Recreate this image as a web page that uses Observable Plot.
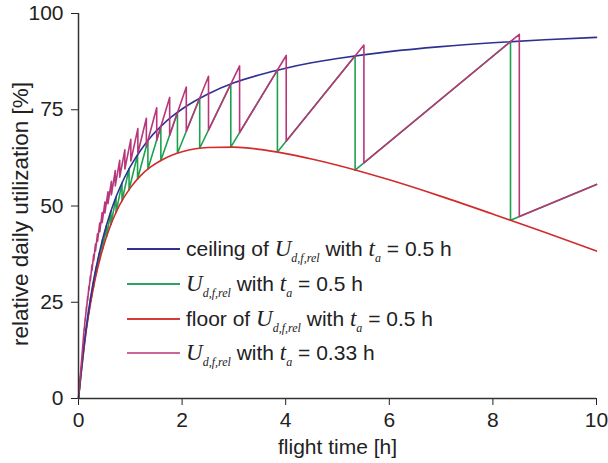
<!DOCTYPE html>
<html>
<head>
<meta charset="utf-8">
<script src="https://cdn.jsdelivr.net/npm/d3@7"></script>
<script src="https://cdn.jsdelivr.net/npm/@observablehq/plot@0.6"></script>
<style>
  html, body { margin: 0; padding: 0; background: #fff; }
  #wrap { position: relative; width: 608px; height: 463px; }
  .legend { position: absolute; left: 127px; top: 0; font-family: "Liberation Sans", Arial, sans-serif; font-size: 21px; color: #222; }
  .row { position: absolute; left: 0; height: 30px; line-height: 30px; white-space: nowrap; }
  .sw { display: inline-block; width: 53px; height: 2px; vertical-align: middle; margin-right: 6px; position: relative; top: -1px; }
  .m { font-family: "Liberation Serif", "Times New Roman", serif; font-style: italic; font-size: 23px; }
  .s { font-family: "Liberation Serif", "Times New Roman", serif; font-style: italic; font-size: 12px; position: relative; top: 6px; }
</style>
</head>
<body>
<div id="wrap"></div>
<script>
// ---- data ----
const xTicks = [0, 2, 4, 6, 8, 10];
const yTicks = [0, 25, 50, 75, 100];
const xLabel = "flight time [h]";
const yLabel = "relative daily utilization [%]";

// ceiling and floor curves (t_a = 0.5 h)
const curveT  = [0, 0.05, 0.1, 0.15, 0.2, 0.3, 0.4, 0.5, 0.6, 0.7, 0.8, 1, 1.2, 1.4, 1.6, 1.8, 2, 2.5, 3, 3.5, 4, 4.5, 5, 6, 7, 8, 9, 10];
const ceilU   = [0, 7.0, 13.2, 18.5, 23.3, 31.3, 37.7, 43.1, 47.6, 51.5, 54.8, 60.2, 64.5, 68.0, 70.8, 73.2, 75.2, 79.1, 82.0, 84.1, 85.8, 87.2, 88.3, 90.1, 91.4, 92.4, 93.2, 93.8];
const floorU  = [0, 6.8, 12.6, 17.7, 22.2, 29.6, 35.5, 40.3, 44.3, 47.6, 50.4, 54.7, 57.9, 60.2, 61.9, 63.2, 64.1, 65.2, 65.3, 64.7, 63.6, 62.2, 60.6, 56.8, 52.5, 47.9, 43.2, 38.3];

// sawtooth U_d,f,rel with t_a = 0.5 h: drop times, value before drop, value after drop
const greenT      = [0.158, 0.197, 0.24, 0.287, 0.34, 0.399, 0.465, 0.54, 0.626, 0.725, 0.84, 0.976, 1.14, 1.34, 1.59, 1.91, 2.34, 2.94, 3.84, 5.34, 8.34];
const greenTop    = [19.3, 23.0, 26.7, 30.3, 34.0, 37.7, 41.3, 45.0, 48.7, 52.3, 56.0, 59.7, 63.3, 67.0, 70.7, 74.3, 78.0, 81.7, 85.3, 89.0, 92.7];
const greenBottom = [18.5, 21.9, 25.3, 28.7, 32.1, 35.5, 38.8, 42.0, 45.2, 48.3, 51.3, 54.2, 57.0, 59.6, 61.8, 63.7, 65.0, 65.3, 64.0, 59.3, 46.3];
const greenEnd = 55.6;

// sawtooth U_d,f,rel with t_a = 0.33 h
const purpleT      = [0.11, 0.131, 0.153, 0.177, 0.202, 0.23, 0.26, 0.293, 0.328, 0.367, 0.41, 0.457, 0.51, 0.569, 0.635, 0.71, 0.796, 0.895, 1.01, 1.146, 1.31, 1.51, 1.76, 2.081, 2.51, 3.11, 4.01, 5.51, 8.51];
const purpleTop    = [18.3, 21.1, 23.8, 26.5, 29.2, 31.9, 34.7, 37.4, 40.1, 42.8, 45.6, 48.3, 51.0, 53.7, 56.4, 59.2, 61.9, 64.6, 67.3, 70.1, 72.8, 75.5, 78.2, 80.9, 83.7, 86.4, 89.1, 91.8, 94.6];
const purpleBottom = [17.7, 20.3, 22.9, 25.5, 28.1, 30.7, 33.2, 35.8, 38.3, 40.8, 43.3, 45.7, 48.2, 50.6, 52.9, 55.2, 57.5, 59.6, 61.7, 63.7, 65.5, 67.1, 68.4, 69.4, 69.7, 69.1, 66.8, 61.2, 47.3];
const purpleEnd = 55.6;
const tEnd = 10;

const legendItems = [
  {color: "#2e3192", html: 'ceiling of <span class="m">U</span><span class="s">d,f,rel</span> with <span class="m">t</span><span class="s">a</span> = 0.5 h'},
  {color: "#2aa55a", html: '<span class="m">U</span><span class="s">d,f,rel</span> with <span class="m">t</span><span class="s">a</span> = 0.5 h'},
  {color: "#d63a3a", html: 'floor of <span class="m">U</span><span class="s">d,f,rel</span> with <span class="m">t</span><span class="s">a</span> = 0.5 h'},
  {color: "#c8689a", html: '<span class="m">U</span><span class="s">d,f,rel</span> with <span class="m">t</span><span class="s">a</span> = 0.33 h'}
];

// ---- build tables ----
const ceilData = curveT.map((t, i) => ({t, u: ceilU[i]}));
const floorData = curveT.map((t, i) => ({t, u: floorU[i]}));
function saw(ts, tops, bots, end) {
  const pts = [{t: 0, u: 0}];
  ts.forEach((t, i) => { pts.push({t, u: tops[i]}); pts.push({t, u: bots[i]}); });
  pts.push({t: tEnd, u: end});
  return pts;
}
const greenData = saw(greenT, greenTop, greenBottom, greenEnd);
const purpleData = saw(purpleT, purpleTop, purpleBottom, purpleEnd);

const chart = Plot.plot({
  width: 608,
  height: 463,
  marginLeft: 78,
  marginRight: 12,
  marginTop: 13,
  marginBottom: 65,
  style: {fontFamily: "'Liberation Sans', Arial, sans-serif", fontSize: "21px", color: "#222", background: "white"},
  x: {domain: [0, 10], ticks: xTicks, tickSize: 7, tickPadding: 7, label: null},
  y: {domain: [0, 100], ticks: yTicks, tickSize: 7, tickPadding: 8, label: null},
  marks: [
    Plot.line(greenData, {x: "t", y: "u", stroke: "#1fa04f", strokeWidth: 1.6}),
    Plot.line(floorData, {x: "t", y: "u", stroke: "#d22b2b", strokeWidth: 1.6, curve: "monotone-x"}),
    Plot.line(ceilData, {x: "t", y: "u", stroke: "#2e3192", strokeWidth: 1.6, curve: "monotone-x"}),
    Plot.line(purpleData, {x: "t", y: "u", stroke: "#b8377a", strokeWidth: 1.6}),
    Plot.ruleX([0], {stroke: "#333", strokeWidth: 1.5}),
    Plot.ruleY([0], {stroke: "#333", strokeWidth: 1.5}),
    Plot.text([xLabel], {text: d => d, frameAnchor: "bottom", textAnchor: "middle", lineAnchor: "middle", dy: 49, fontSize: 21, fill: "#222"}),
    Plot.text([yLabel], {text: d => d, frameAnchor: "left", textAnchor: "middle", lineAnchor: "middle", rotate: -90, dx: -58, dy: 8, fontSize: 22.5, fill: "#222"})
  ]
});
const wrap = document.getElementById("wrap");
wrap.appendChild(chart);

const legend = document.createElement("div");
legend.className = "legend";
const rowCenters = [249, 284, 319, 353];
legendItems.forEach((item, i) => {
  const row = document.createElement("div");
  row.className = "row";
  row.style.top = (rowCenters[i] - 15) + "px";
  row.innerHTML = `<span class="sw" style="background-color:${item.color}"></span>` + item.html;
  legend.appendChild(row);
});
wrap.appendChild(legend);
</script>
</body>
</html>
